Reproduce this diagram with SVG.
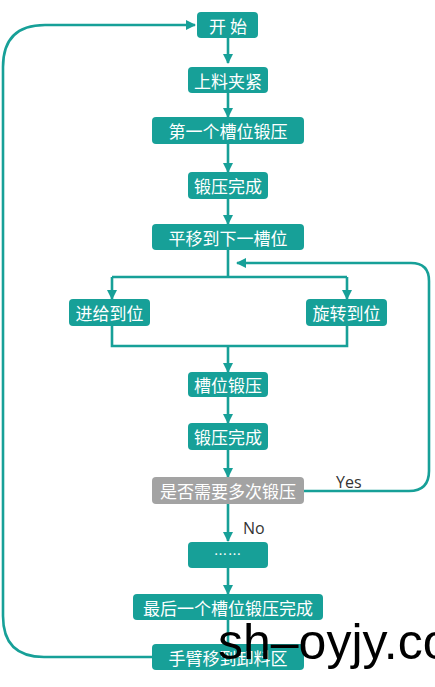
<svg xmlns="http://www.w3.org/2000/svg" width="435" height="687" viewBox="0 0 435 687">
<style>
.box{fill:#17a098;}
.gray{fill:#a3a3a3;}
.t{font-family:"Noto Sans CJK SC","Noto Sans",sans-serif;font-size:17px;fill:#ffffff;text-anchor:middle;dominant-baseline:central;}
.c{fill:none;stroke:#17a098;stroke-width:2.6;}
.lbl{font-family:"Open Sans","Noto Sans",sans-serif;font-size:16px;fill:#333333;}
</style>
<defs>
<marker id="ah" viewBox="0 0 10 10" refX="9" refY="5" markerWidth="10" markerHeight="10" markerUnits="userSpaceOnUse" orient="auto">
<path d="M0,0 L10,5 L0,10 Z" fill="#17a098"/>
</marker>
</defs>
<rect width="435" height="687" fill="#ffffff"/>
<g id="connectors">
<path class="c" marker-end="url(#ah)" d="M228,38 V63"/>
<path class="c" marker-end="url(#ah)" d="M228,93 V117"/>
<path class="c" marker-end="url(#ah)" d="M228,144 V172"/>
<path class="c" marker-end="url(#ah)" d="M228,199 V224"/>
<path class="c" d="M228,250 V277"/>
<path class="c" d="M112,277 H347"/>
<path class="c" marker-end="url(#ah)" d="M112,277 V299"/>
<path class="c" marker-end="url(#ah)" d="M347,277 V299"/>
<path class="c" d="M112,326 V346 H347 V326"/>
<path class="c" marker-end="url(#ah)" d="M228,346 V372"/>
<path class="c" marker-end="url(#ah)" d="M228,397 V423"/>
<path class="c" marker-end="url(#ah)" d="M228,450 V477"/>
<path class="c" marker-end="url(#ah)" d="M304,491 H409 Q429,491 429,471 V281 Q429,263 411,263 H237"/>
<text class="lbl" x="336" y="488">Yes</text>
<path class="c" marker-end="url(#ah)" d="M228,504 V541"/>
<text class="lbl" x="243" y="534">No</text>
<path class="c" marker-end="url(#ah)" d="M228,568 V594"/>
<path class="c" d="M228,620 V644"/>
<path class="c" marker-end="url(#ah)" d="M152,657 H44 Q3,657 3,616 V67 Q3,25 45,25 H195"/>
</g>
<g id="n1"><rect class="box" x="197" y="12" width="61" height="26" rx="4"/><text class="t" x="228" y="25">开 始</text></g>
<g id="n2"><rect class="box" x="188" y="67" width="80" height="26" rx="4"/><text class="t" x="228" y="80">上料夹紧</text></g>
<g id="n3"><rect class="box" x="152" y="117" width="152" height="27" rx="4"/><text class="t" x="228" y="130.5">第一个槽位锻压</text></g>
<g id="n4"><rect class="box" x="188" y="172" width="80" height="27" rx="4"/><text class="t" x="228" y="185.5">锻压完成</text></g>
<g id="n5"><rect class="box" x="152" y="224" width="152" height="26" rx="4"/><text class="t" x="228" y="237">平移到下一槽位</text></g>
<g id="n6"><rect class="box" x="69" y="299" width="81" height="27" rx="4"/><text class="t" x="109.5" y="312.5">进给到位</text></g>
<g id="n7"><rect class="box" x="306" y="299" width="81" height="27" rx="4"/><text class="t" x="346.5" y="312.5">旋转到位</text></g>
<g id="n8"><rect class="box" x="188" y="372" width="80" height="25" rx="4"/><text class="t" x="228" y="384.5">槽位锻压</text></g>
<g id="n9"><rect class="box" x="188" y="423" width="80" height="27" rx="4"/><text class="t" x="228" y="436.5">锻压完成</text></g>
<g id="n10"><rect class="gray" x="152" y="477" width="152" height="27" rx="4"/><text class="t" x="228" y="490.5">是否需要多次锻压</text></g>
<g id="n11"><rect class="box" x="188" y="542" width="80" height="26" rx="4"/><text class="t" x="228" y="553" style="font-size:13px;letter-spacing:1px">……</text></g>
<g id="n12"><rect class="box" x="133" y="594" width="190" height="26" rx="4"/><text class="t" x="228" y="607">最后一个槽位锻压完成</text></g>
<g id="n13"><rect class="box" x="152" y="644" width="152" height="26" rx="4"/><text class="t" x="228" y="657">手臂移到卸料区</text></g>
<text x="218" y="659" style="font-family:'Liberation Sans',sans-serif;font-size:50px;fill:#000000">sh–oyjy.com</text>
</svg>
